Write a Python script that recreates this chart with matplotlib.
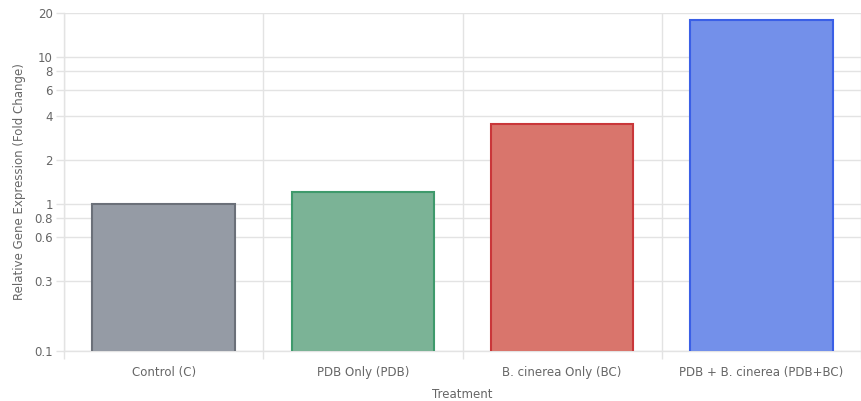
import numpy as np
import matplotlib.pyplot as plt
from matplotlib.ticker import FixedLocator, NullLocator

# data
treatments = ["Control (C)", "PDB Only (PDB)", "B. cinerea Only (BC)", "PDB + B. cinerea (PDB+BC)"]
fold_change = [1.0, 1.2, 3.5, 18.0]
fill_colors = ["#959ba5", "#7bb396", "#d9756c", "#7390ea"]
edge_colors = ["#6b7079", "#3f9a6c", "#c9373a", "#3a5fe6"]
ytick_vals = [0.1, 0.3, 0.6, 0.8, 1, 2, 4, 6, 8, 10, 20]
ytick_labels = ["0.1", "0.3", "0.6", "0.8", "1", "2", "4", "6", "8", "10", "20"]

grid_c = "#e3e3e3"
text_c = "#666666"

fig = plt.figure(figsize=(8.61, 4.01), dpi=100)
ax = fig.add_axes([64/861, 50/401, 1 - 64/861, 338/401])

x = np.arange(len(treatments))
ax.bar(x, fold_change, width=0.715, color=fill_colors, edgecolor=edge_colors,
       linewidth=1.5, bottom=0, zorder=3)

ax.set_yscale("log")
ax.set_ylim(0.1, 20)
ax.set_xlim(-0.5, 3.5 - 11/201.8)

ax.yaxis.set_major_locator(FixedLocator(ytick_vals))
ax.set_yticklabels(ytick_labels)
ax.yaxis.set_minor_locator(NullLocator())

ax.set_xticks(x)
ax.set_xticklabels(treatments)
ax.set_xticks(np.arange(-0.5, 4.0, 1.0), minor=True)

ax.grid(True, axis="y", which="major", color=grid_c, linewidth=1, zorder=0)
ax.grid(True, axis="x", which="minor", color=grid_c, linewidth=1, zorder=0)
ax.set_axisbelow(True)

ax.tick_params(axis="y", which="major", length=6, color=grid_c, width=1,
               pad=2, labelsize=8.5, labelcolor=text_c)
ax.tick_params(axis="x", which="major", length=0, pad=11, labelsize=8.5, labelcolor=text_c)
ax.tick_params(axis="x", which="minor", length=6, color=grid_c, width=1)

for s in ["top", "right"]:
    ax.spines[s].set_visible(False)
for s in ["left", "bottom"]:
    ax.spines[s].set_color(grid_c)
    ax.spines[s].set_linewidth(1)

ax.set_ylabel("Relative Gene Expression (Fold Change)", fontsize=8.5, color=text_c, labelpad=6)
ax.set_xlabel("Treatment", fontsize=8.5, color=text_c, labelpad=6)

fig.savefig("out.png", dpi=100)
